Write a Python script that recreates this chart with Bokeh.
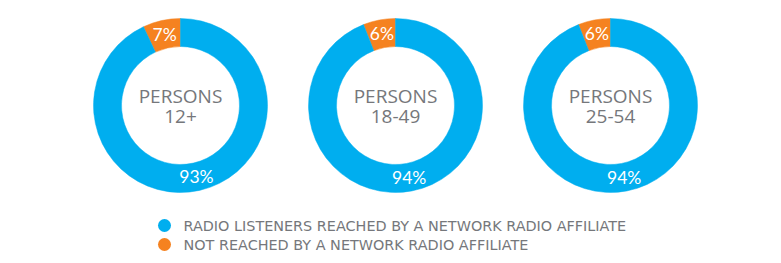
import math
from bokeh.plotting import figure
from bokeh.models import Range1d, ColumnDataSource
from bokeh.core.properties import value
from bokeh.embed import file_html
from bokeh.resources import INLINE

# ---- data ----
groups = ["12+", "18-49", "25-54"]
reached = [93, 94, 94]          # radio listeners reached by a network radio affiliate (%)
not_reached = [7, 6, 6]         # not reached (%)
series_names = ["RADIO LISTENERS REACHED BY A NETWORK RADIO AFFILIATE",
                "NOT REACHED BY A NETWORK RADIO AFFILIATE"]
colors = ["#00AEEF", "#F58220"]

W, H = 781, 263
p = figure(width=W, height=H, output_backend="svg", toolbar_location=None,
           x_range=Range1d(0, W), y_range=Range1d(0, H), min_border=0,
           outline_line_color=None)
p.axis.visible = False
p.grid.visible = False
p.background_fill_color = "white"
p.border_fill_color = "white"

cx0, dx, cy = 180, 215, H - 105
r_in, r_out = 59, 87
r_lab = 73

wx, wy, ws, we, wc = [], [], [], [], []
lx, ly, lt = [], [], []
for i, g in enumerate(groups):
    cx = cx0 + i * dx
    top = math.pi / 2
    a_orange_end = top + not_reached[i] / 100 * 2 * math.pi
    wx.append(cx); wy.append(cy); ws.append(top); we.append(a_orange_end); wc.append(colors[1])
    wx.append(cx); wy.append(cy); ws.append(a_orange_end); we.append(top + 2 * math.pi); wc.append(colors[0])
    mo = (top + a_orange_end) / 2
    mb = (a_orange_end + top + 2 * math.pi) / 2
    lx += [cx + r_lab * math.cos(mo), cx + r_lab * math.cos(mb)]
    ly += [cy + r_lab * math.sin(mo), cy + r_lab * math.sin(mb)]
    lt += [f"{not_reached[i]}%", f"{reached[i]}%"]

src = ColumnDataSource(dict(x=wx, y=wy, s=ws, e=we, c=wc))
p.annular_wedge(x="x", y="y", inner_radius=r_in, outer_radius=r_out,
                start_angle="s", end_angle="e", direction="anticlock",
                fill_color="c", line_color="c", line_width=0.5, source=src)

p.text(x=lx, y=ly, text=lt, text_color="white", text_font=value("Lato"),
       text_font_size="17.5px", text_align="center", text_baseline="middle")

ccx = [cx0 + i * dx for i in range(len(groups))]
p.text(x=ccx, y=[cy + 10] * len(groups), text=["PERSONS"] * len(groups),
       text_color="#75777b", text_font=value("Open Sans"), text_font_size="19px",
       text_align="center", text_baseline="middle")
p.text(x=ccx, y=[cy - 11] * len(groups), text=groups,
       text_color="#75777b", text_font=value("Open Sans"), text_font_size="19px",
       text_align="center", text_baseline="middle")

# legend
leg_y = [H - 225, H - 244]
p.scatter(x=[164, 164], y=leg_y, size=13, marker="circle",
          fill_color=colors, line_color=None)
p.text(x=[183, 183], y=leg_y, text=series_names, text_color="#75777b",
       text_font=value("DejaVu Sans"), text_font_size="14.4px",
       text_align="left", text_baseline="middle")

open("out.html", "w").write(file_html(p, INLINE))
